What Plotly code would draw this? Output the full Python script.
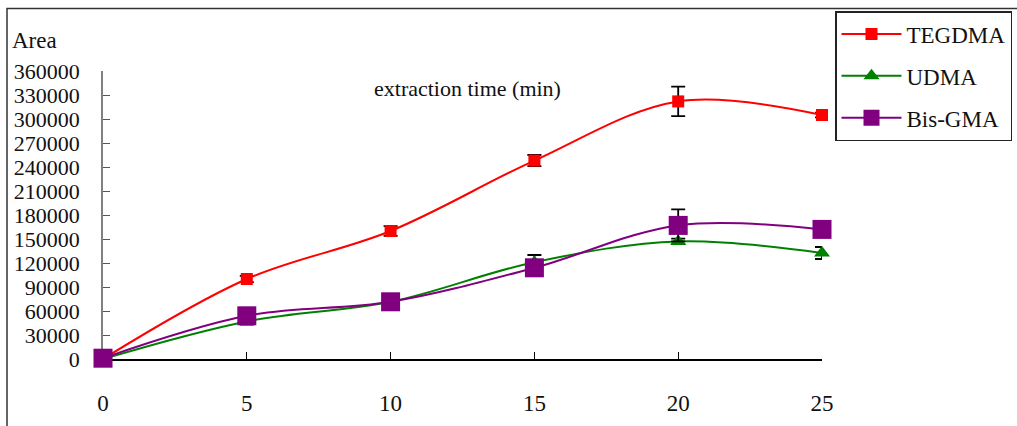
import plotly.graph_objects as go

# ---- data ----
time_min = [0, 5, 10, 15, 20, 25]
tegdma = [0, 100000, 160000, 248000, 322000, 305000]
tegdma_err = [None, 4000, 6000, 7000, 18500, 3000]
udma = [0, 47000, 71500, 121000, 147000, 132500]
udma_err = [None, 4000, 3000, 9000, 3500, 7500]
bisgma = [1000, 54000, 71500, 114000, 167000, 162000]
bisgma_err = [None, None, None, None, 20000, None]
x_ticks = [0, 5, 10, 15, 20, 25]
y_ticks = list(range(0, 360001, 30000))

FONT = "Liberation Serif"

# plot-area pixel geometry
W, H = 1017, 426
L, R = 103, 822
T, B = 70.7, 359.3

fig = go.Figure()

def add(name, y, err, color, symbol, size):
    fig.add_trace(go.Scatter(
        x=time_min, y=y, name=name, legendgroup=name,
        mode="lines+markers",
        line=dict(color=color, width=2, shape="spline", smoothing=1.0),
        marker=dict(color=color, symbol=symbol, size=size, line=dict(width=0)),
        error_y=dict(type="data", array=err, visible=True, color="black",
                     thickness=1.8, width=7),
        cliponaxis=False,
    ))

add("TEGDMA", tegdma, tegdma_err, "#ff0000", "square", 12)
add("UDMA", udma, udma_err, "#008000", "triangle-up", 14)
add("Bis-GMA", bisgma, bisgma_err, "#800080", "square", 19)

def px2paper_x(px):
    return (px - L) / (R - L)

def px2paper_y(py):
    return (B - py) / (B - T)

fig.update_layout(
    width=W, height=H,
    margin=dict(l=L, r=W - R, t=T, b=H - B, pad=0, autoexpand=False),
    paper_bgcolor="white", plot_bgcolor="white",
    font=dict(family=FONT, size=22, color="#111111"),
    showlegend=True,
    legend=dict(
        xref="container", yref="container",
        x=835 / W, y=1 - 11 / H, xanchor="left", yanchor="top",
        bordercolor="#222222", borderwidth=1.5, bgcolor="white",
        font=dict(family=FONT, size=23, color="#111111"),
        itemwidth=60, tracegroupgap=9,
        traceorder="grouped",
    ),
    xaxis=dict(
        range=[0, 25], tickvals=x_ticks, ticktext=[str(v) for v in x_ticks],
        showgrid=False, zeroline=False, showline=True, linecolor="black",
        linewidth=1.5, ticks="inside", ticklen=7, tickcolor="black",
        tickwidth=1, ticklabelstandoff=23, automargin=False,
        layer="below traces",
        tickfont=dict(family=FONT, size=23, color="#111111"),
    ),
    yaxis=dict(
        range=[0, 360000], tickvals=y_ticks, ticktext=[str(v) for v in y_ticks],
        showgrid=False, zeroline=False, showline=True, linecolor="#808080",
        linewidth=1.5, ticks="inside", ticklen=7, tickcolor="#555555",
        tickwidth=1, ticklabelstandoff=17, automargin=False,
        layer="below traces",
        tickfont=dict(family=FONT, size=22, color="#111111"),
    ),
    annotations=[
        dict(text="extraction time (min)", xref="paper", yref="paper",
             x=px2paper_x(468), y=px2paper_y(88), xanchor="center",
             yanchor="middle", showarrow=False,
             font=dict(family=FONT, size=22, color="#111111")),
        dict(text="Area", xref="paper", yref="paper",
             x=px2paper_x(10), y=px2paper_y(40), xanchor="left",
             yanchor="middle", showarrow=False,
             font=dict(family=FONT, size=23, color="#111111")),
    ],
    shapes=[
        dict(type="rect", xref="paper", yref="paper",
             x0=px2paper_x(7), x1=px2paper_x(1030),
             y0=px2paper_y(440), y1=px2paper_y(8),
             line=dict(color="#333333", width=1.5), layer="below"),
    ],
)

fig.write_html("out.html")
